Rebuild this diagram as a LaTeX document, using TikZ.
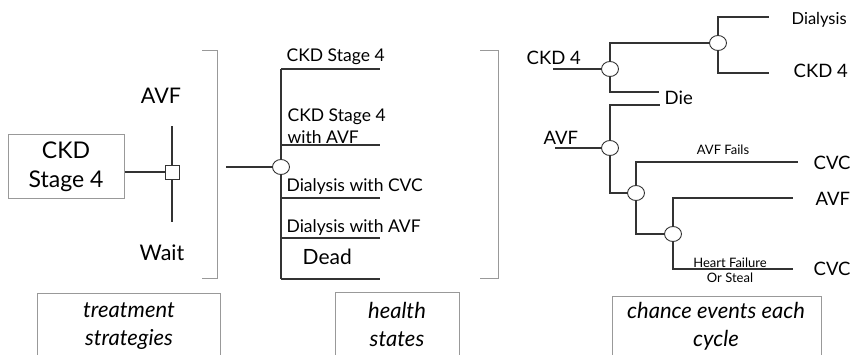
\documentclass[tikz,border=0pt]{standalone}
\usepackage{fontspec}
\setmainfont{Lato}
\usetikzlibrary{shapes.geometric}

\begin{document}
\begin{tikzpicture}[x=1pt, y=-1pt, line width=1.3pt,
    tree/.style={draw=black!80},
    frame/.style={draw=black!40, line width=1pt},
    chance/.style={ellipse, draw=black!80, fill=white, line width=0.9pt,
        minimum width=17pt, minimum height=15pt, inner sep=0pt},
    decision/.style={rectangle, draw=black!80, fill=white, line width=0.9pt,
        minimum size=14pt, inner sep=0pt},
    big/.style={font=\fontsize{21.5}{26}\selectfont, inner sep=0pt},
    mid/.style={font=\fontsize{17.5}{22}\selectfont, inner sep=0pt, anchor=west},
    lab/.style={font=\fontsize{18.5}{22}\selectfont, inner sep=0pt, anchor=west},
    tiny/.style={font=\fontsize{13}{15}\selectfont, inner sep=0pt, align=center},
    caption/.style={font=\fontsize{22}{28}\selectfont\itshape, inner sep=0pt, align=center}]
    \useasboundingbox (0,0) rectangle (852,355);

    % treatment strategies
    \node[big, frame, align=center, minimum width=116pt, minimum height=64pt,
        font=\fontsize{23}{29}\selectfont] (ckd) at (66,167) {CKD\\Stage 4};
    \node[decision] (dec) at (172,172) {};
    \node[big] (avf) at (161,96) {AVF};
    \node[big] (wait) at (162,253) {Wait};
    \coordinate (avftop) at (172,126);
    \coordinate (waitbot) at (172,222);
    \draw[tree] (ckd.east |- dec.west) -- (dec.west);
    \draw[tree] (dec.north) -- (avftop);
    \draw[tree] (dec.south) -- (waitbot);
    \draw[frame] (202,51) -- (217,51) -- (217,279) -- (202,279);

    % health states
    \coordinate (hsin) at (226,167);
    \node[chance] (hs) at (281,167) {};
    \draw[tree] (hsin) -- (hs.west);
    \draw[tree] (hs.north) -- (281,69);
    \draw[tree] (hs.south) -- (281,279);
    \foreach \y in {69,145,198,238,279}
        \draw[tree] (281,\y) -- (380,\y);
    \node[mid] (s1) at (286,57) {CKD Stage 4};
    \node[mid, align=left] (s2) at (287,126) {CKD Stage 4\\with AVF};
    \node[mid] (s3) at (286,187) {Dialysis with CVC};
    \node[mid] (s4) at (286,228) {Dialysis with AVF};
    \node[lab, font=\fontsize{21}{22}\selectfont] (s5) at (302,257) {Dead};
    \draw[frame] (480,51) -- (498,51) -- (498,279) -- (480,279);

    % chance events each cycle
    \node[lab] (ckdin) at (526,58) {CKD 4};
    \node[chance] (c1) at (610,69) {};
    \node[chance] (c2) at (718,43) {};
    \draw[tree] (553,69) -- (c1.west);
    \draw[tree] (c1.north) |- (c2.west);
    \draw[tree] (c1.south) |- (659,92);
    \draw[tree] (c2.north) |- (769,17);
    \draw[tree] (c2.south) |- (769,73);
    \node[lab, font=\fontsize{16.5}{22}\selectfont] (dia) at (791,20) {Dialysis};
    \node[lab] (ckdout) at (793,71) {CKD 4};
    \node[lab] (die) at (664,98) {Die};

    \node[lab] (avfin) at (543,138) {AVF};
    \node[chance] (c3) at (610,148) {};
    \node[chance] (c4) at (636,193) {};
    \node[chance] (c5) at (673,234) {};
    \draw[tree] (555,148) -- (c3.west);
    \draw[tree] (c3.north) |- (660,105);
    \draw[tree] (c3.south) |- (c4.west);
    \draw[tree] (c4.north) |- (798,162);
    \draw[tree] (c4.south) |- (c5.west);
    \draw[tree] (c5.north) |- (793,198);
    \draw[tree] (c5.south) |- (793,269);
    \node[tiny] (fails) at (723,150) {AVF Fails};
    \node[tiny] (steal) at (730,270) {Heart Failure\\Or Steal};
    \node[lab] (cvc1) at (813,163) {CVC};
    \node[lab] (avfout) at (815,199) {AVF};
    \node[lab] (cvc2) at (813,269) {CVC};

    % captions
    \draw[frame] (37,360) |- (220,294) -- (220,360);
    \node[caption] (strat) at (129,326) {treatment\\strategies};
    \draw[frame] (335,360) |- (459,293) -- (459,360);
    \node[caption] (health) at (397,324) {health\\states};
    \draw[frame] (612,360) |- (821,297) -- (821,360);
    \node[caption] (events) at (716,326) {chance events each\\cycle};
\end{tikzpicture}
\end{document}
